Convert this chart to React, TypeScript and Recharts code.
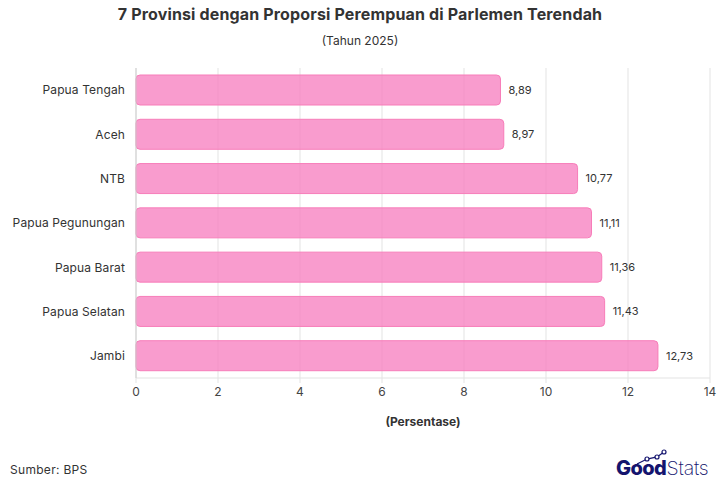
import React from "react";
import { BarChart, Bar, XAxis, YAxis, CartesianGrid, LabelList } from "recharts";

const provinces = ["Papua Tengah", "Aceh", "NTB", "Papua Pegunungan", "Papua Barat", "Papua Selatan", "Jambi"];
const shares = [8.89, 8.97, 10.77, 11.11, 11.36, 11.43, 12.73];
const xTicks = [0, 2, 4, 6, 8, 10, 12, 14];

const rows = provinces.map((name, i) => ({ name, value: shares[i] }));
const FONT = "Inter, 'Noto Sans', sans-serif";
const formatValue = (v: number) => v.toFixed(2).replace(".", ",");

function Logo() {
  return (
    <svg width={100} height={36} style={{ position: "absolute", left: 615, top: 446 }}>
      <polyline points="22,18 32,13 42,11 49,6" fill="none" stroke="#14146e" strokeWidth={1.3} />
      <g fill="#fff" stroke="#14146e" strokeWidth={1.2}>
        <circle cx={32} cy={13} r={2} />
        <circle cx={42} cy={11} r={2} />
        <circle cx={49} cy={6} r={2} />
      </g>
      <text x={1} y={29} fontFamily={FONT} fontSize={20} fontWeight={800} fill="#14146e" letterSpacing={-0.6}>Good</text>
      <text x={51.5} y={29} fontFamily={FONT} fontSize={19.5} fontWeight={200} fill="#14146e" letterSpacing={-0.2}>Stats</text>
    </svg>
  );
}

export default function App() {
  return (
    <div style={{ position: "absolute", left: 0, top: 0, width: 720, height: 480, background: "#fff", fontFamily: FONT, overflow: "hidden" }}>
      <div style={{ position: "absolute", top: 4, left: 0, width: 720, textAlign: "center", fontSize: 16, fontWeight: 700, color: "#333", lineHeight: "20px", letterSpacing: 0.15 }}>
        7 Provinsi dengan Proporsi Perempuan di Parlemen Terendah
      </div>
      <div style={{ position: "absolute", top: 33, left: 0, width: 720, textAlign: "center", fontSize: 12, color: "#333", lineHeight: "16px" }}>
        (Tahun 2025)
      </div>
      <BarChart
        width={720}
        height={480}
        data={rows}
        layout="vertical"
        margin={{ top: 68, right: 10, bottom: 72, left: 0 }}
        barCategoryGap={7}
        style={{ position: "absolute", left: 0, top: 0 }}
      >
        <CartesianGrid horizontal={false} stroke="#e3e3e3" strokeWidth={1} />
        <XAxis
          type="number"
          domain={[0, 14]}
          ticks={xTicks}
          tickLine={{ stroke: "#e3e3e3" }}
          tickSize={5}
          axisLine={{ stroke: "#e3e3e3" }}
          tick={{ fontSize: 12, fill: "#444", fontFamily: FONT }}
          height={30}
          tickMargin={4}
        />
        <YAxis
          type="category"
          dataKey="name"
          width={136}
          tickLine={false}
          axisLine={{ stroke: "#cfcfcf" }}
          tick={{ fontSize: 12, fill: "#333", fontFamily: FONT, letterSpacing: 0.12 }}
          tickMargin={5}
        />
        <Bar
          dataKey="value"
          isAnimationActive={false}
          fill="#f780c0"
          fillOpacity={0.78}
          stroke="#f77db9"
          strokeWidth={1}
          radius={4}
        >
          <LabelList dataKey="value" position="right" offset={8} formatter={formatValue} style={{ fontSize: 11, fill: "#333", fontFamily: FONT }} />
        </Bar>
      </BarChart>
      <div style={{ position: "absolute", top: 414, left: 136, width: 574, textAlign: "center", fontSize: 12, fontWeight: 700, color: "#333", lineHeight: "16px" }}>
        (Persentase)
      </div>
      <div style={{ position: "absolute", top: 462, left: 10, fontSize: 12, color: "#333", lineHeight: "16px", letterSpacing: 0.3 }}>
        Sumber: BPS
      </div>
      <Logo />
    </div>
  );
}
